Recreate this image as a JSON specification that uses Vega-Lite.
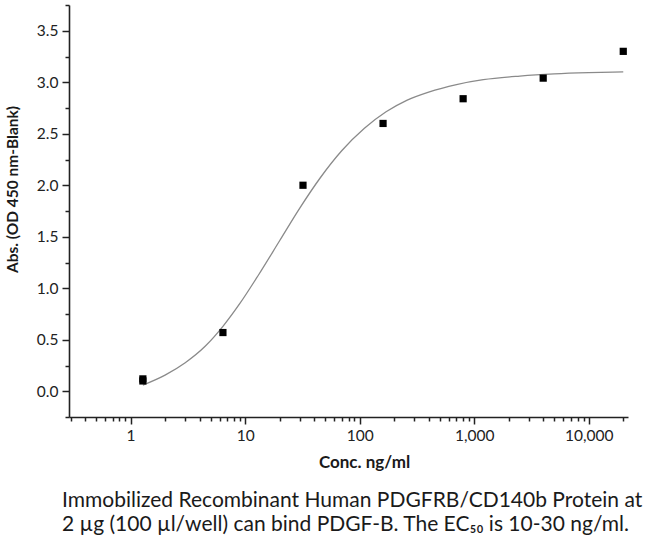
{
  "$schema": "https://vega.github.io/schema/vega-lite/v6.json",
  "width": 559,
  "height": 412,
  "autosize": {"type": "none"},
  "padding": {"left": 69, "top": 5, "right": 24, "bottom": 123},
  "background": "white",
  "view": {"stroke": null},
  "config": {
    "font": "Lato",
    "axis": {"grid": false}
  },
  "title": {
    "text": ["Immobilized Recombinant Human PDGFRB/CD140b Protein at", "2 µg (100 µl/well) can bind PDGF-B. The EC₅₀ is 10-30 ng/ml."],
    "orient": "bottom",
    "anchor": "start",
    "frame": "group",
    "dx": -7,
    "offset": 19,
    "font": "Lato",
    "fontSize": 21,
    "fontWeight": "normal",
    "color": "#1a1a1a",
    "lineHeight": 24
  },
  "datasets": {
    "points": [
      {"conc": 1.28, "abs": 0.12},
      {"conc": 1.28, "abs": 0.10},
      {"conc": 6.4, "abs": 0.57},
      {"conc": 32, "abs": 2.0},
      {"conc": 160, "abs": 2.60},
      {"conc": 800, "abs": 2.84},
      {"conc": 4000, "abs": 3.04},
      {"conc": 20000, "abs": 3.30}
    ],
    "curve": [
      {"conc": 1.28, "abs": 0.06},
      {"conc": 2, "abs": 0.157},
      {"conc": 3, "abs": 0.277},
      {"conc": 4.5, "abs": 0.439},
      {"conc": 6.4, "abs": 0.63},
      {"conc": 9, "abs": 0.852},
      {"conc": 13, "abs": 1.124},
      {"conc": 20, "abs": 1.461},
      {"conc": 30, "abs": 1.778},
      {"conc": 45, "abs": 2.068},
      {"conc": 70, "abs": 2.337},
      {"conc": 110, "abs": 2.553},
      {"conc": 170, "abs": 2.713},
      {"conc": 260, "abs": 2.827},
      {"conc": 400, "abs": 2.905},
      {"conc": 700, "abs": 2.978},
      {"conc": 1200, "abs": 3.025},
      {"conc": 2500, "abs": 3.06},
      {"conc": 5000, "abs": 3.081},
      {"conc": 10000, "abs": 3.093},
      {"conc": 20000, "abs": 3.10}
    ]
  },
  "encoding": {
    "x": {
      "field": "conc",
      "type": "quantitative",
      "scale": {"type": "log", "domain": [0.29, 22000], "nice": false},
      "axis": {
        "title": "Conc. ng/ml",
        "titleFont": "Lato",
        "titleFontSize": 17,
        "titleFontWeight": "bold",
        "titleColor": "#1a1a1a",
        "titleX": 295,
        "titlePadding": 11,
        "values": [0.3, 0.4, 0.5, 0.6, 0.7, 0.8, 0.9, 1, 2, 3, 4, 5, 6, 7, 8, 9, 10, 20, 30, 40, 50, 60, 70, 80, 90, 100, 200, 300, 400, 500, 600, 700, 800, 900, 1000, 2000, 3000, 4000, 5000, 6000, 7000, 8000, 9000, 10000, 20000],
        "labelExpr": "indexof([1, 10, 100, 1000, 10000], datum.value) >= 0 ? format(datum.value, ',') : ''",
        "labelFont": "Lato",
        "labelFontSize": 15.5,
        "labelColor": "#222222",
        "labelPadding": 4,
        "labelFlush": false,
        "labelOverlap": false,
        "domainColor": "#222222",
        "domainWidth": 1.6,
        "tickColor": "#222222",
        "tickWidth": 1.5,
        "tickSize": {"condition": {"test": "indexof([1, 10, 100, 1000, 10000], datum.value) >= 0", "value": 7}, "value": 4}
      }
    },
    "y": {
      "field": "abs",
      "type": "quantitative",
      "scale": {"domain": [-0.25, 3.75], "nice": false, "zero": false},
      "axis": {
        "title": "Abs. (OD 450 nm-Blank)",
        "titleFont": "Lato",
        "titleFontSize": 15.5,
        "titleFontWeight": "bold",
        "titleColor": "#1a1a1a",
        "titleY": 184,
        "titlePadding": 16,
        "values": [-0.25, 0, 0.25, 0.5, 0.75, 1, 1.25, 1.5, 1.75, 2, 2.25, 2.5, 2.75, 3, 3.25, 3.5, 3.75],
        "labelExpr": "indexof([0, 0.5, 1, 1.5, 2, 2.5, 3, 3.5], datum.value) >= 0 ? format(datum.value, '.1f') : ''",
        "labelFont": "Lato",
        "labelFontSize": 15.5,
        "labelColor": "#222222",
        "labelPadding": 4,
        "labelFlush": false,
        "labelOverlap": false,
        "domainColor": "#222222",
        "domainWidth": 1.6,
        "tickColor": "#222222",
        "tickWidth": 1.5,
        "tickSize": {"condition": {"test": "indexof([0, 0.5, 1, 1.5, 2, 2.5, 3, 3.5], datum.value) >= 0", "value": 7}, "value": 4}
      }
    }
  },
  "layer": [
    {
      "data": {"name": "curve"},
      "mark": {"type": "line", "color": "#8a8a8a", "strokeWidth": 1.3, "interpolate": "monotone"}
    },
    {
      "data": {"name": "points"},
      "mark": {"type": "point", "shape": "square", "filled": true, "color": "#000000", "opacity": 1, "size": 52}
    }
  ]
}
